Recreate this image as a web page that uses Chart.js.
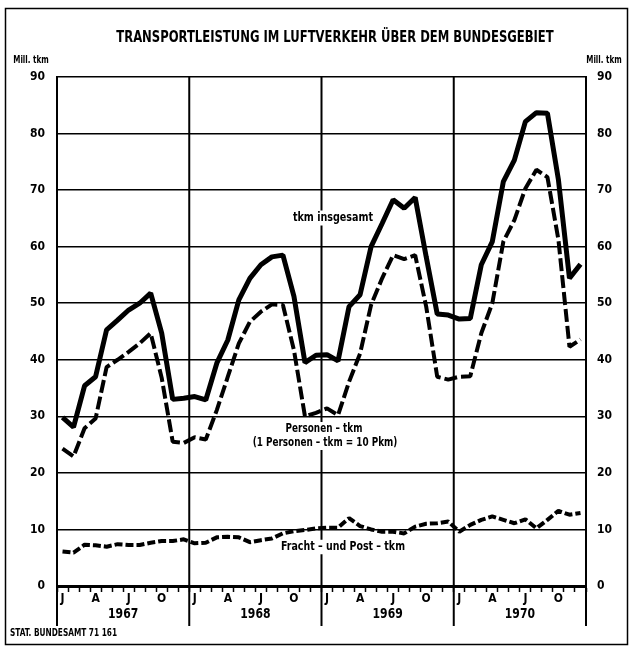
<!DOCTYPE html>
<html><head><meta charset="utf-8">
<script src="https://cdn.jsdelivr.net/npm/chart.js@4.4.0/dist/chart.umd.min.js"></script>
<style>
html,body{margin:0;padding:0;background:#fff}
#wrap{position:relative;width:633px;height:647px}
</style></head><body>
<div id="wrap"><canvas id="c" width="633" height="647"></canvas></div>
<script>
const FONT="'DejaVu Sans Condensed','Liberation Sans Narrow','Roboto Condensed','DejaVu Sans',sans-serif";

// data, one value per month, Jan 1967 .. Dec 1970 (Mill. tkm)
const years=['1967','1968','1969','1970'];
const monthLetters=['J','','','A','','','J','','','O','',''];
const total=[
 29.8,28.1,35.4,37.0,45.3,47.0,48.8,50.0,51.8,44.7,33.0,33.2,
 33.5,32.9,39.4,43.5,50.6,54.4,56.8,58.2,58.5,51.2,39.5,40.8,
 40.9,39.8,49.4,51.5,60.0,64.1,68.3,66.8,68.7,58.2,48.1,47.9,
 47.2,47.3,56.8,60.9,71.5,75.3,82.1,83.7,83.6,71.8,54.4,56.9];
const personen=[
 24.3,22.9,27.9,29.6,38.7,40.0,41.4,42.9,44.7,36.8,25.5,25.3,
 26.3,25.9,31.1,37.0,42.9,46.7,48.5,49.8,49.7,41.7,30.0,30.6,
 31.4,30.2,36.1,41.1,49.7,54.4,58.5,57.8,58.5,49.4,37.0,36.5,
 37.0,37.1,44.7,50.0,60.9,64.7,70.3,73.6,72.3,61.2,42.3,43.6];
const fracht=[
 6.1,5.9,7.3,7.2,6.95,7.4,7.25,7.25,7.65,7.95,7.95,8.25,
 7.55,7.65,8.6,8.7,8.6,7.75,8.1,8.4,9.3,9.7,9.9,10.2,
 10.3,10.3,12.0,10.6,10.0,9.6,9.6,9.3,10.5,11.0,11.1,11.4,
 9.6,10.8,11.7,12.3,11.7,11.1,11.8,10.2,11.7,13.3,12.6,12.9];
const yMin=0,yMax=90,yStep=10;

const labels=[];
years.forEach(y=>{for(let m=1;m<=12;m++)labels.push(y+'-'+m)});

// text squeezed horizontally to look like the condensed face of the original
function label(ctx,txt,x,y,size,bg,sq=0.84,align='center'){
 ctx.save();
 ctx.font='bold '+size+'px '+FONT;
 const w=ctx.measureText(txt).width*sq;
 const x0=align==='center'?x-w/2:x;
 if(bg){ctx.fillStyle='#fff';ctx.fillRect(x0-3,y-size/2-1,w+6,size+2)}
 ctx.translate(x0,y);ctx.scale(sq,1);
 ctx.fillStyle='#000';ctx.textAlign='left';ctx.textBaseline='middle';
 ctx.fillText(txt,0,0);
 ctx.restore();
}

const deco={
 id:'deco',
 beforeDatasetsDraw(chart){
  const {ctx,chartArea:a,scales:{x}}=chart;
  ctx.save();
  // year separators, running down through the label area
  ctx.strokeStyle='#000';ctx.lineWidth=2;
  for(let k=0;k<=years.length;k++){
   let px;
   if(k===0)px=a.left;else if(k===years.length)px=a.right;
   else px=(x.getPixelForValue(k*12-1)+x.getPixelForValue(k*12))/2;
   ctx.beginPath();ctx.moveTo(px,a.top);ctx.lineTo(px,a.bottom+40);ctx.stroke();
  }
  label(ctx,'tkm insgesamt',333,218,13,true,0.82);
  label(ctx,'Personen \u2013 tkm',324,429,12,true,0.82);
  label(ctx,'(1 Personen \u2013 tkm = 10 Pkm)',325,443,12,true,0.82);
  label(ctx,'Fracht \u2013 und Post \u2013 tkm',343,547,12.5,true,0.84);
  ctx.restore();
 },
 afterDraw(chart){
  const {ctx,chartArea:a,scales:{x}}=chart;
  ctx.save();
  ctx.strokeStyle='#000';ctx.lineWidth=1.5;
  ctx.strokeRect(5.5,8.5,622,636);
  label(ctx,'TRANSPORTLEISTUNG IM LUFTVERKEHR \u00dcBER DEM BUNDESGEBIET',335,38,15,false,0.86);
  label(ctx,'Mill. tkm',31,60,10,false,0.8);
  label(ctx,'Mill. tkm',604,60,10,false,0.8);
  years.forEach((y,k)=>{
   const px=(x.getPixelForValue(k*12+5)+x.getPixelForValue(k*12+6))/2;
   label(ctx,y,px,614,14,false,0.86);
  });
  label(ctx,'STAT. BUNDESAMT 71 161',10,633,10,false,0.82,'left');
  ctx.restore();
 }
};

const tickFont={family:FONT,size:12,weight:'bold'};
new Chart(document.getElementById('c'),{
 type:'line',
 data:{labels,datasets:[
  {label:'tkm insgesamt',data:total,borderColor:'#000',borderWidth:5,pointRadius:0,tension:0,borderJoinStyle:'bevel'},
  {label:'Personen-tkm',data:personen,borderColor:'#000',borderWidth:4,borderDash:[13,4],pointRadius:0,tension:0,borderJoinStyle:'bevel'},
  {label:'Fracht- und Post-tkm',data:fracht,borderColor:'#000',borderWidth:4,borderDash:[8,3],pointRadius:0,tension:0,borderJoinStyle:'bevel'}
 ]},
 options:{
  responsive:false,animation:false,devicePixelRatio:1,
  layout:{padding:{top:77,left:0,right:0,bottom:0}},
  plugins:{legend:{display:false},tooltip:{enabled:false},title:{display:false}},
  scales:{
   x:{type:'category',offset:true,
    grid:{offset:true,color:'rgba(0,0,0,0)',tickColor:'#000',tickLength:6,tickWidth:1.5},
    border:{display:true,color:'#000',width:3},
    ticks:{autoSkip:false,maxRotation:0,minRotation:0,padding:0,color:'#000',font:tickFont,
     callback:(v,i)=>monthLetters[i%12]},
    afterFit:s=>{s.height=61}},
   y:{position:'left',min:yMin,max:yMax,
    ticks:{stepSize:yStep,padding:12,color:'#000',font:tickFont},
    grid:{color:'#000',lineWidth:1.5,drawTicks:false},
    border:{display:true,color:'#000',width:2},
    afterFit:s=>{s.width=57}},
   y2:{position:'right',min:yMin,max:yMax,
    ticks:{stepSize:yStep,padding:11,color:'#000',font:tickFont},
    grid:{drawOnChartArea:false,drawTicks:false},
    border:{display:true,color:'#000',width:2},
    afterFit:s=>{s.width=47}}
  }
 },
 plugins:[deco]
});
</script>
</body></html>
